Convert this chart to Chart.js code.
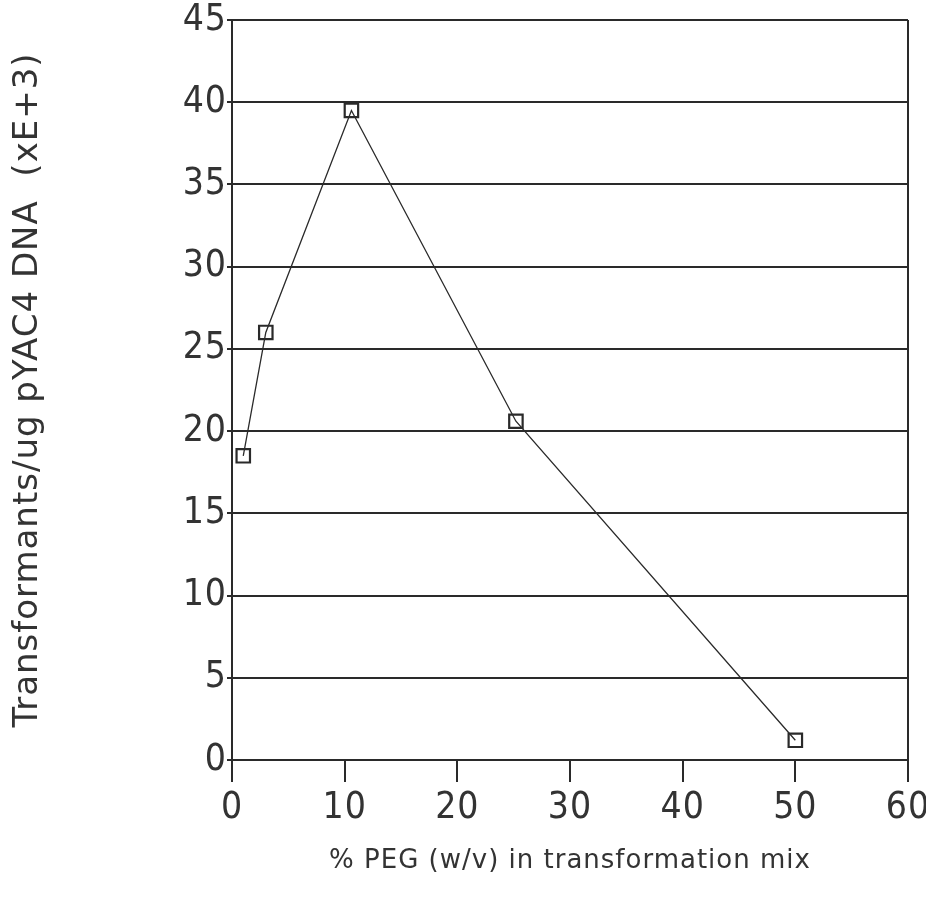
<!DOCTYPE html>
<html>
<head>
<meta charset="utf-8">
<script src="https://cdn.jsdelivr.net/npm/chart.js@4.4.1/dist/chart.umd.min.js"></script>
<style>
  html, body { margin: 0; padding: 0; background: #fff; }
  #wrap { width: 926px; height: 911px; }
</style>
</head>
<body>
<div id="wrap"><canvas id="myChart" width="926" height="911"></canvas></div>
<script>
'use strict';

// data
var pegPercent = [1, 3, 10.6, 25.2, 50];
var transformants = [18.5, 26, 39.5, 20.6, 1.2];
var xTicks = [0, 10, 20, 30, 40, 50, 60];
var yTicks = [0, 5, 10, 15, 20, 25, 30, 35, 40, 45];

var xTitle = '% PEG (w/v) in transformation mix';
var yTitle = 'Transformants/ug pYAC4 DNA  (xE+3)';

var ink = '#2a2a2a';
var textInk = '#333';
var tickFont = { family: "'Liberation Sans Narrow', 'DejaVu Sans Condensed', sans-serif", size: 37, weight: 'normal' };

var points = [];
for (var i = 0; i < pegPercent.length; i++) {
  points.push({ x: pegPercent[i], y: transformants[i] });
}

// a little extra letter spacing like the old plotter lettering
var spacingPlugin = {
  id: 'spacing',
  beforeDraw: function (c) { c.ctx.letterSpacing = '1px'; }
};

var ctx = document.getElementById('myChart').getContext('2d');

var chart = new Chart(ctx, {
  type: 'scatter',
  plugins: [spacingPlugin],
  data: {
    datasets: [{
      data: points,
      showLine: true,
      borderColor: ink,
      borderWidth: 1.3,
      pointStyle: 'rect',
      pointRadius: 9.5,
      pointBorderWidth: 2.2,
      pointBorderColor: ink,
      pointBackgroundColor: 'rgba(255,255,255,0)',
      pointHoverRadius: 9.5
    }]
  },
  options: {
    responsive: false,
    animation: false,
    layout: { padding: { top: 20, right: 18, left: 0, bottom: 0 } },
    plugins: {
      legend: { display: false },
      tooltip: { enabled: false }
    },
    scales: {
      x: {
        type: 'linear',
        min: 0,
        max: 60,
        afterBuildTicks: function (scale) {
          scale.ticks = xTicks.map(function (v) { return { value: v }; });
        },
        afterFit: function (scale) {
          scale.height = 151;
          scale.paddingRight = 0;
          scale.paddingLeft = 0;
        },
        border: { color: ink, width: 2 },
        grid: {
          drawOnChartArea: true,
          color: function (c) { return c.tick && c.tick.value === 60 ? ink : 'rgba(0,0,0,0)'; },
          tickColor: ink,
          tickLength: 22,
          lineWidth: 2
        },
        ticks: { color: textInk, font: tickFont, padding: 4, maxRotation: 0 },
        title: {
          display: true,
          text: xTitle,
          color: textInk,
          font: { family: "'DejaVu Sans', sans-serif", size: 26 },
          padding: { top: 0, bottom: 34 }
        }
      },
      y: {
        type: 'linear',
        min: 0,
        max: 45,
        afterBuildTicks: function (scale) {
          scale.ticks = yTicks.map(function (v) { return { value: v }; });
        },
        afterFit: function (scale) {
          scale.width = 232;
          scale.paddingTop = 0;
          scale.paddingBottom = 0;
        },
        border: { color: ink, width: 2 },
        grid: {
          color: ink,
          tickColor: ink,
          tickLength: 5,
          lineWidth: 2
        },
        ticks: { color: textInk, font: tickFont, padding: 0 },
        title: {
          display: true,
          text: yTitle,
          color: textInk,
          font: { family: "'DejaVu Sans', sans-serif", size: 34 },
          padding: { top: 8, bottom: 0 }
        }
      }
    }
  }
});
</script>
</body>
</html>
